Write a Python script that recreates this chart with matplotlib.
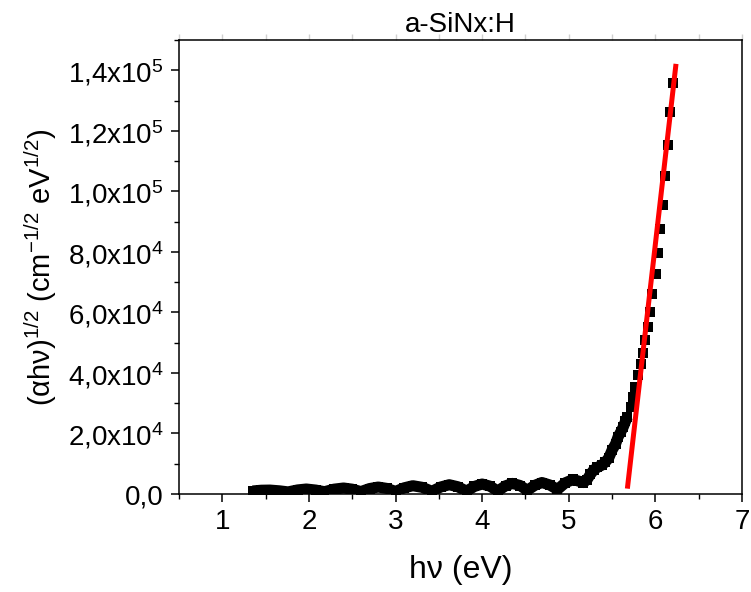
import matplotlib
matplotlib.use("Agg")
import matplotlib.pyplot as plt
from matplotlib.ticker import FuncFormatter, MultipleLocator
import numpy as np

plt.rcParams['font.family'] = ['Liberation Sans', 'DejaVu Sans']
plt.rcParams['mathtext.fontset'] = 'custom'
plt.rcParams['mathtext.rm'] = 'Liberation Sans'
plt.rcParams['mathtext.it'] = 'Liberation Sans'
plt.rcParams['mathtext.bf'] = 'Liberation Sans:bold'

title = "a-SiNx:H"
x_label = "hν (eV)"
y_label = r"(αhν)$^{1/2}$ (cm$^{-1/2}$ eV$^{1/2}$)"

# photon energy (eV) and (alpha h nu)^1/2
hv = [1.35, 1.45, 1.55, 1.66, 1.76, 1.87, 1.97, 2.08, 2.18, 2.29, 2.40, 2.50,
      2.60, 2.70, 2.80, 2.90, 3.00, 3.10, 3.20, 3.31, 3.42, 3.52, 3.62, 3.72,
      3.82, 3.91, 4.00, 4.09, 4.18, 4.27, 4.35, 4.44, 4.52, 4.61, 4.69, 4.78,
      4.87, 4.96, 5.05, 5.11, 5.17, 5.21, 5.25, 5.29, 5.33, 5.38, 5.42, 5.46,
      5.50, 5.54, 5.57, 5.60, 5.63, 5.655,
      5.677, 5.716, 5.739, 5.766, 5.797, 5.831, 5.858, 5.885, 5.912, 5.938,
      5.966, 6.005, 6.035, 6.058, 6.085, 6.115, 6.143, 6.170, 6.201]
ahv = [1000, 1250, 1300, 1050, 700, 1350, 1650, 1300, 760, 1600, 1980, 1600,
       800, 1800, 2300, 1850, 850, 2050, 2740, 2200, 900, 2300, 3070, 2400,
       950, 2500, 3300, 2600, 1000, 2700, 3500, 2800, 1200, 2900, 3800, 3000,
       1500, 3700, 4800, 4300, 3800, 4700, 6500, 8000, 8800, 9500, 10500, 11800,
       14500, 16500, 18900, 20500, 22200, 24000,
       25500, 28800, 32100, 35400, 39300, 42900, 46600, 50800, 55200, 60200,
       66000, 72600, 79600, 87400, 95600, 105000, 115400, 126200, 135900]

# linear fit (red line)
fit_hv = [5.68, 6.235]
fit_ahv = [2600, 141300]

x_ticks = [1, 2, 3, 4, 5, 6, 7]
y_ticks = [0, 20000, 40000, 60000, 80000, 100000, 120000, 140000]

fig = plt.figure(figsize=(7.51, 5.92), dpi=100)
ax = fig.add_axes([0.2383, 0.1655, 0.7497, 0.7669])

hv_a = np.array(hv)
ahv_a = np.array(ahv)
dense = hv_a < 5.68
ax.plot(hv_a[dense], ahv_a[dense], '-', color='black', lw=8,
        solid_joinstyle='round', solid_capstyle='butt', zorder=2)
ax.plot(hv_a, ahv_a, 's', color='black', ms=7.8, mew=0, zorder=2)
ax.plot(fit_hv, fit_ahv, '-', color='#ff0000', lw=3.6, zorder=3)

ax.set_xlim(0.5, 7)
ax.set_ylim(0, 150000)
ax.set_xticks(x_ticks)
ax.set_yticks(y_ticks)
ax.xaxis.set_minor_locator(MultipleLocator(0.5))
ax.yaxis.set_minor_locator(MultipleLocator(10000))


def yfmt(v, pos):
    if v == 0:
        return "0,0"
    e = int(np.floor(np.log10(abs(v))))
    m = v / 10 ** e
    return ("%.1f" % m).replace('.', ',') + "x10$^{%d}$" % e


ax.yaxis.set_major_formatter(FuncFormatter(yfmt))

for s in ax.spines.values():
    s.set_linewidth(1.1)

ax.tick_params(axis='both', which='major', direction='out', length=6,
               width=1.1, labelsize=20, pad=5)
ax.tick_params(axis='both', which='minor', direction='out', length=3.5,
               width=1.0)

# faint top ticks as in reference
sec = ax.secondary_xaxis('top')
sec.set_xticks(x_ticks)
sec.xaxis.set_minor_locator(MultipleLocator(0.5))
sec.tick_params(which='both', direction='out', length=4, width=1.0,
                color='#d0d0d0', labeltop=False)
sec.spines['top'].set_visible(False)

ax.set_xlabel(x_label, fontsize=23, labelpad=14)
ax.set_ylabel(y_label, fontsize=21, labelpad=6)
ax.set_title(title, fontsize=20, pad=6)

fig.savefig("out.png", dpi=100)
